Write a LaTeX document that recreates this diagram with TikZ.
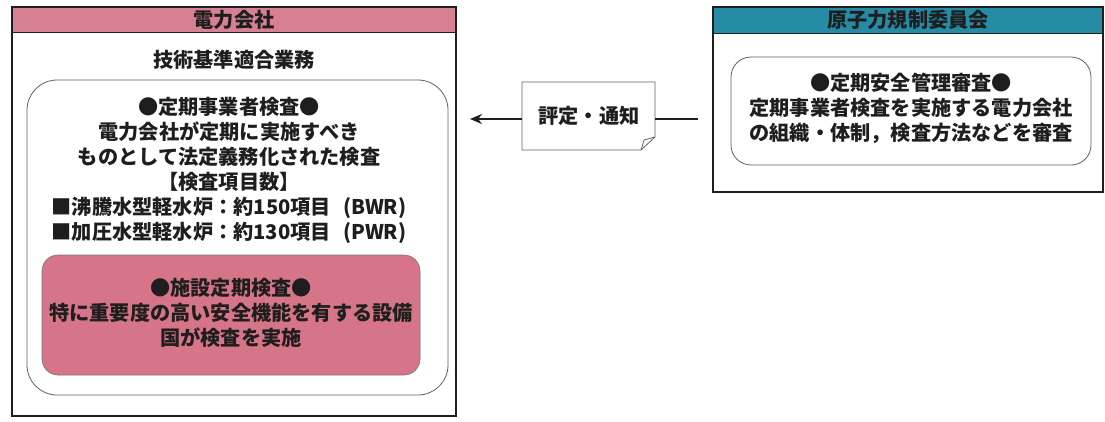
\documentclass[tikz,border=0pt]{standalone}
\usepackage{fontspec}
\setmainfont{Noto Sans CJK JP}
\usetikzlibrary{arrows.meta}
\definecolor{hdpink}{RGB}{214,128,145}
\definecolor{boxpink}{RGB}{214,116,136}
\definecolor{hdteal}{RGB}{38,140,166}
\definecolor{ink}{RGB}{30,30,30}
\tikzset{
  frame/.style={draw=ink,line width=1.3pt},
  rbox/.style={draw=ink!70,line width=0.8pt,rounded corners=30pt},
  txt/.style={font=\fontsize{20.2}{25}\selectfont\bfseries,text=ink,align=center,inner sep=0pt},
  conn/.style={draw=ink,line width=2pt}
}
\begin{document}
\begin{tikzpicture}[x=1pt,y=-1pt]
\useasboundingbox (0,0) rectangle (1105,421);
% left box
\fill[white] (12,7) rectangle (456,416);
\fill[hdpink] (12,7) rectangle (456,32);
\draw[frame] (12,7) rectangle (456,416);
\draw[ink,line width=1pt] (12,32) -- (456,32);
\node[txt] (lhead) at (234,20) {電力会社};
\node[txt] (ltitle) at (234,60) {技術基準適合業務};
\draw[rbox] (27,80) rectangle (448,395);
\node[txt] (linner) at (229,170) {●定期事業者検査●\\電力会社が定期に実施すべき\\ものとして法定義務化された検査\\【検査項目数】\\■沸騰水型軽水炉：約150項目\hspace{0.6em}(BWR)\\■加圧水型軽水炉：約130項目\hspace{0.6em}(PWR)};
\fill[boxpink,rounded corners=16pt] (42,255) rectangle (420,375);
\draw[ink!60,line width=0.6pt,rounded corners=16pt] (42,255) rectangle (420,375);
\node[txt] (lpink) at (231,313) {●施設定期検査●\\特に重要度の高い安全機能を有する設備\\国が検査を実施};
% right box
\fill[white] (713,7) rectangle (1103,192);
\fill[hdteal] (713,7) rectangle (1103,33);
\draw[frame] (713,7) rectangle (1103,192);
\draw[ink,line width=1pt] (713,33) -- (1103,33);
\node[txt] (rhead) at (908,20) {原子力規制委員会};
\draw[rbox,rounded corners=20pt] (731,57) rectangle (1091,165);
\node[txt] (rinner) at (911,108) {●定期安全管理審査●\\定期事業者検査を実施する電力会社\\の組織・体制，検査方法などを審査};
% note
\draw[ink!70,line width=0.8pt,fill=white] (522,82) -- (655,82) -- (655,137) -- (641,150) -- (522,150) -- cycle;
\draw[ink!70,line width=0.8pt] (641,150) .. controls (643,144) .. (644,140) -- (655,137);
\node[txt] (note) at (589,116) {評定・通知};
\coordinate (lend) at (470,119);
\coordinate (rend) at (698,119);
\draw[conn] (rend) -- (655,119);
\draw[conn,-{Stealth[length=12pt,width=10pt]}] (522,119) -- (lend);
\end{tikzpicture}
\end{document}
